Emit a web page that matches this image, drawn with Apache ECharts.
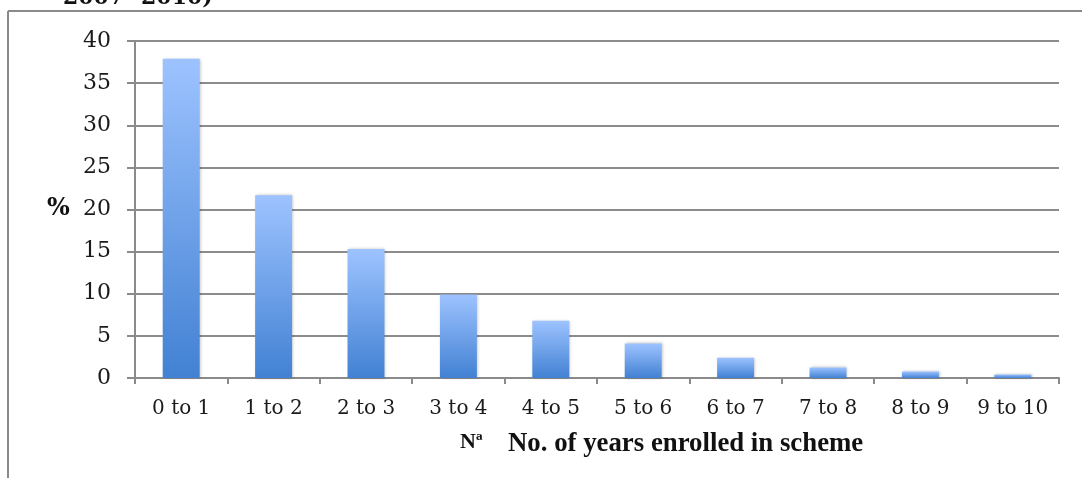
<!DOCTYPE html>
<html>
<head>
<meta charset="utf-8">
<script src="https://cdn.jsdelivr.net/npm/echarts@6/dist/echarts.min.js"></script>
<style>
html,body{margin:0;padding:0;background:#fff;}
#c{width:1082px;height:478px;}
</style>
</head>
<body>
<div id="c"></div>
<script>
const categories = ['0 to 1','1 to 2','2 to 3','3 to 4','4 to 5','5 to 6','6 to 7','7 to 8','8 to 9','9 to 10'];
const percentValues = [37.9, 21.7, 15.3, 9.9, 6.8, 4.1, 2.4, 1.25, 0.77, 0.42];
const yTicks = [0, 40, 5];

const chart = echarts.init(document.getElementById('c'), null, {renderer:'canvas'});
const serif = 'DejaVu Serif';
chart.setOption({
  animation: false,
  backgroundColor: '#ffffff',
  grid: {left: 135, right: 23, top: 41, bottom: 100, containLabel: false},
  xAxis: {
    type: 'category',
    data: categories,
    axisLine: {show: true, lineStyle: {color: '#8a8a8a', width: 2}},
    axisTick: {show: true, alignWithLabel: false, length: 6, lineStyle: {color: '#8a8a8a', width: 2}},
    axisLabel: {fontFamily: serif, fontSize: 20, color: '#1a1a1a', margin: 21}
  },
  yAxis: {
    type: 'value',
    min: yTicks[0], max: yTicks[1], interval: yTicks[2],
    axisLine: {show: true, lineStyle: {color: '#8a8a8a', width: 2}},
    axisTick: {show: true, length: 8, lineStyle: {color: '#8a8a8a', width: 2}},
    axisLabel: {fontFamily: serif, fontSize: 22, color: '#1a1a1a', margin: 24},
    splitLine: {show: true, lineStyle: {color: '#8c8c8c', width: 2}}
  },
  series: [{
    type: 'bar',
    data: percentValues,
    barWidth: '40%',
    itemStyle: {
      color: new echarts.graphic.LinearGradient(0, 0, 0, 1, [
        {offset: 0, color: '#9dc3ff'},
        {offset: 1, color: '#4281d3'}
      ]),
      shadowColor: 'rgba(0,0,0,0.25)',
      shadowBlur: 3,
      shadowOffsetX: 1,
      shadowOffsetY: 0
    }
  }],
  graphic: [
    {type: 'line', shape: {x1: 8, y1: 11, x2: 1082, y2: 11}, style: {stroke: '#8a8a8a', lineWidth: 2}},
    {type: 'line', shape: {x1: 8, y1: 11, x2: 8, y2: 478}, style: {stroke: '#8a8a8a', lineWidth: 2}},
    {type: 'text', left: 63, top: -13, style: {text: '2007- 2010)', font: 'bold 22px "DejaVu Serif"', fill: '#111'}},
    {type: 'text', left: 47, top: 197, style: {text: '%', font: 'bold 24px "DejaVu Serif"', fill: '#111'}},
    {type: 'text', left: 460, top: 431, style: {text: 'Nª', font: 'bold 22px "Liberation Serif"', fill: '#111'}},
    {type: 'text', left: 508, top: 431, style: {text: 'No. of years enrolled in scheme', font: 'bold 26.8px "Liberation Serif"', fill: '#111'}}
  ]
});
</script>
</body>
</html>
